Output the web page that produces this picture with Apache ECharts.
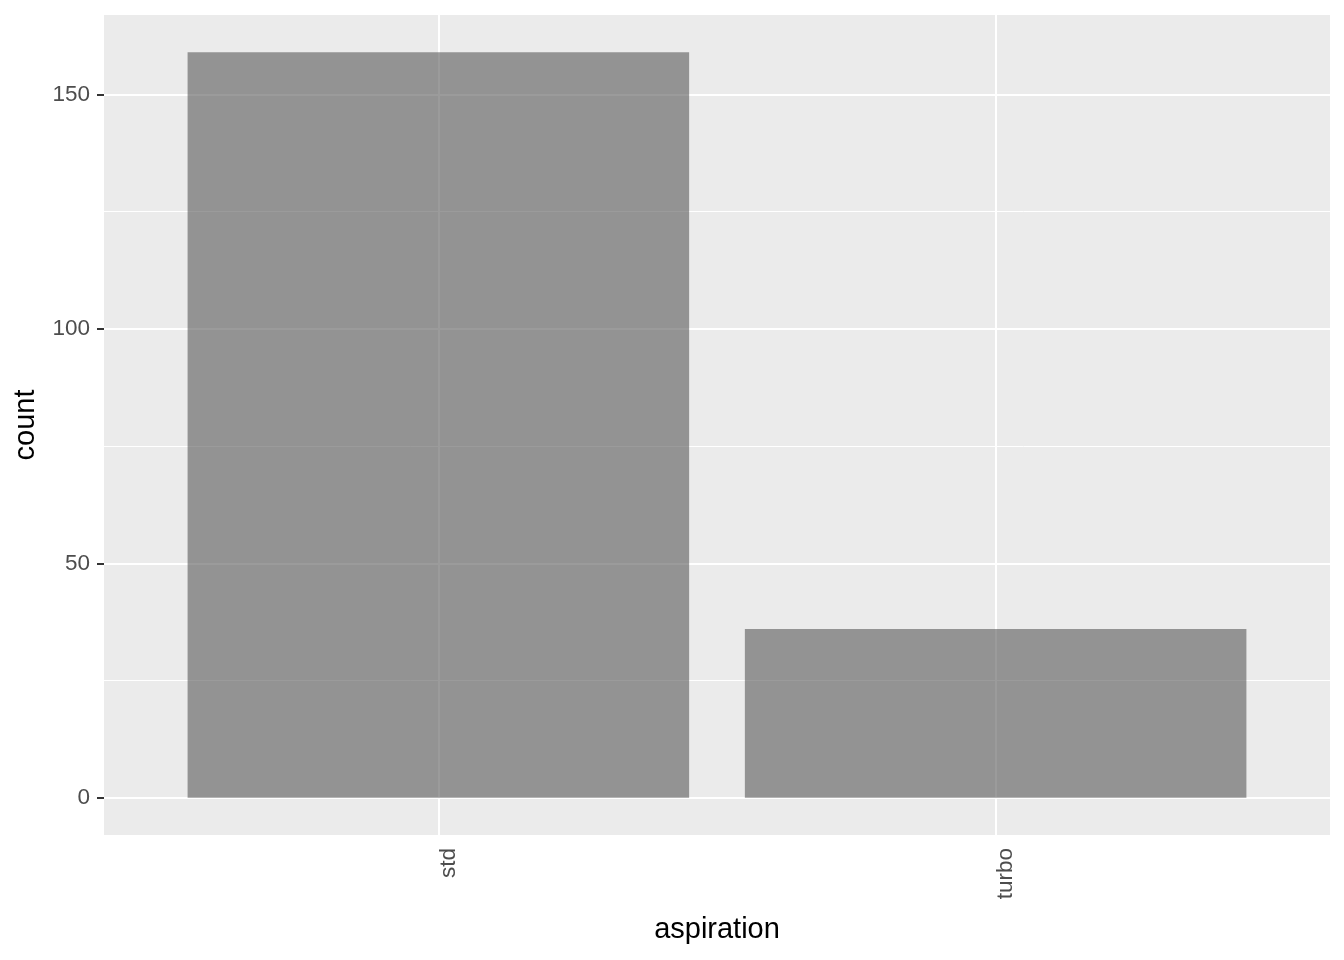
<!DOCTYPE html>
<html>
<head>
<meta charset="utf-8">
<script src="https://cdn.jsdelivr.net/npm/echarts@6/dist/echarts.min.js"></script>
<style>
html,body{margin:0;padding:0;background:#fff;}
#chart{width:1344px;height:960px;}
</style>
</head>
<body>
<div id="chart"></div>
<script>
const categories = ['std', 'turbo'];
const counts = [159, 36];
const yMajorTicks = [0, 50, 100, 150];
const yMinorTicks = [25, 75, 125];

const gridLeft = 104, gridTop = 15, gridWidth = 1226, gridHeight = 820;
const xMin = 0.4, xMax = categories.length + 0.6;
const yMax = Math.max(...counts) * 1.05;
const yMin = -Math.max(...counts) * 0.05;
const barPx = 0.9 * gridWidth / (xMax - xMin);

const positions = categories.map((c, i) => i + 1);
const barData = counts.map((v, i) => [positions[i], v]);

const chart = echarts.init(document.getElementById('chart'), null, {renderer: 'canvas'});
const fontFam = '"Liberation Sans", Arial, Helvetica, sans-serif';

chart.setOption({
  animation: false,
  backgroundColor: '#ffffff',
  grid: {
    left: gridLeft, top: gridTop, width: gridWidth, height: gridHeight,
    show: true, backgroundColor: '#EBEBEB', borderWidth: 0
  },
  xAxis: {
    type: 'value', min: xMin, max: xMax,
    name: 'aspiration', nameLocation: 'middle', nameGap: 80,
    nameTextStyle: {fontSize: 29, color: '#000', fontFamily: fontFam},
    axisLine: {show: false},
    splitLine: {show: false},
    axisTick: {show: true, customValues: positions, length: 7, lineStyle: {color: '#333333', width: 2}},
    axisLabel: {
      customValues: positions, rotate: 90, margin: 13,
      color: '#4D4D4D', fontFamily: fontFam, fontSize: 22.5,
      formatter: v => '{c|' + (categories[Math.round(v) - 1] || '') + '}',
      rich: {
        c: {fontSize: 22.5, color: '#4D4D4D', fontFamily: fontFam, padding: [20, 0, 0, 0]}
      }
    }
  },
  yAxis: {
    type: 'value', min: yMin, max: yMax,
    name: 'count', nameLocation: 'middle', nameGap: 64, nameRotate: 90,
    nameTextStyle: {fontSize: 29, color: '#000', fontFamily: fontFam},
    axisLine: {show: false},
    splitLine: {show: false},
    axisTick: {show: true, customValues: yMajorTicks, length: 7, lineStyle: {color: '#333333', width: 2}},
    axisLabel: {
      customValues: yMajorTicks, margin: 14,
      fontSize: 22.5, color: '#4D4D4D', fontFamily: fontFam
    }
  },
  series: [
    {
      type: 'scatter', data: [], z: 1, silent: true,
      markLine: {
        silent: true, symbol: 'none', label: {show: false}, animation: false, z: 1,
        data: [
          ...yMinorTicks.map(v => ({yAxis: v, lineStyle: {color: '#ffffff', width: 1, type: 'solid'}})),
          ...yMajorTicks.map(v => ({yAxis: v, lineStyle: {color: '#ffffff', width: 2, type: 'solid'}})),
          ...positions.map(v => ({xAxis: v, lineStyle: {color: '#ffffff', width: 2, type: 'solid'}}))
        ]
      }
    },
    {
      type: 'bar', data: barData, z: 10, barWidth: barPx,
      itemStyle: {color: 'rgba(89,89,89,0.6)'}
    }
  ]
});
</script>
</body>
</html>
